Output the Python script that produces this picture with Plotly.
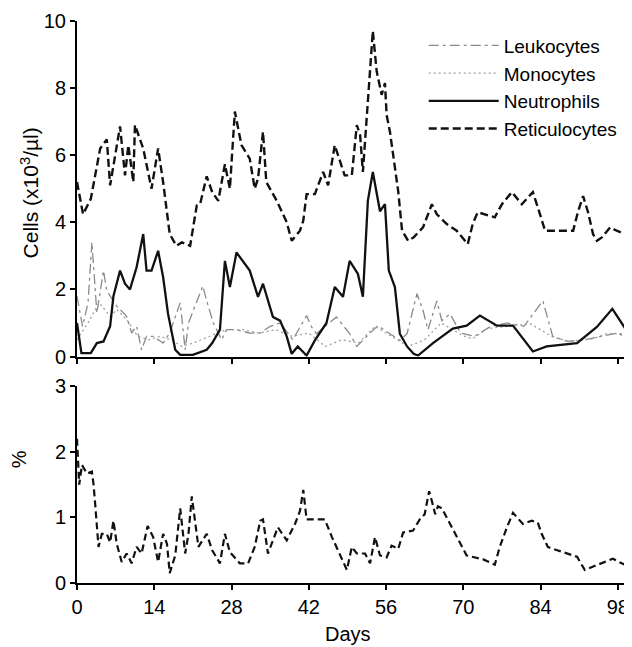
import plotly.graph_objects as go

# ---------------- data ----------------
ret_days = [0, 1.1, 2.5, 4.2, 5.4, 6, 7.8, 8.7, 9.3, 10.2, 10.5, 12, 13.5, 14.7, 15.6, 16.8, 18, 19,
            20.5, 21.7, 22.3, 23.5, 24.5, 25.6, 26.8, 27.7, 28.6, 29.8, 31.3, 32.2, 32.8, 33.7, 34.3,
            36.2, 38, 38.9, 40.4, 41, 41.6, 43.1, 44.6, 45.5, 46.7, 48.5, 49.8, 50.7, 51.3, 51.8,
            52.7, 53.6, 54.3, 55.2, 55.8, 56.1, 56.7, 57.6, 58.2, 58.9, 60, 61, 62.7, 64.3, 65.2,
            67, 68.8, 70.8, 71.7, 72.6, 74.5, 75.7, 77, 78.8, 80.6, 82.6, 83.9, 84.8, 88.8, 89.9,
            90.8, 91.7, 92.6, 93.5, 94.2, 95.1, 96.6, 97.8, 100.2]
ret_vals = [5.2, 4.24, 4.7, 6.2, 6.47, 5.1, 6.86, 5.4, 6.3, 5.2, 6.9, 6.2, 5.0, 6.2, 5.2, 3.65, 3.3, 3.4,
            3.3, 4.5, 4.54, 5.37, 4.9, 4.64, 5.73, 5.0, 7.3, 6.3, 5.9, 5.0, 5.3, 6.7, 5.2,
            4.64, 4.0, 3.45, 3.75, 4.05, 4.84, 4.84, 5.5, 5.1, 6.3, 5.4, 5.4, 6.9, 6.6, 5.5,
            7.6, 9.7, 8.5, 7.8, 8.15, 7.2, 6.7, 5.6, 4.93, 3.75, 3.45, 3.55, 3.85, 4.54, 4.24,
            3.95, 3.75, 3.35, 3.95, 4.3, 4.2, 4.15, 4.54, 4.9, 4.54, 4.9, 4.24, 3.75, 3.75, 3.75,
            4.33, 4.78, 4.3, 3.65, 3.45, 3.55, 3.85, 3.75, 3.6]

neu_days = [0, 0.8, 2.5, 3.6, 4.8, 6, 6.6, 7.8, 8.7, 9.6, 10.8, 11.7, 12, 12.6, 13.5, 14.7, 15.6, 16.5,
            17.8, 18.7, 21, 23.5, 24.5, 25.9, 26.8, 27.7, 28.9, 31.3, 32.8, 33.7, 35.5, 36.8, 38,
            38.9, 40, 41.6, 43.1, 45.2, 46.7, 48.2, 49.4, 50.9, 51.8, 52.7, 53.6, 54.9, 55.8, 56.5,
            57.6, 58.5, 59.8, 61, 61.8, 64.5, 68.1, 70.6, 73, 76.1, 79, 82.6, 85.1, 90.6, 94.2,
            97, 100.2]
neu_vals = [1.0, 0.1, 0.1, 0.4, 0.45, 0.9, 1.8, 2.56, 2.17, 2.0, 2.66, 3.35, 3.65, 2.56, 2.56, 3.15, 2.37, 1.27,
            0.2, 0.05, 0.05, 0.2, 0.4, 0.8, 2.85, 2.07, 3.1, 2.56, 1.78, 2.17, 1.18, 1.07, 0.6,
            0.08, 0.3, 0.03, 0.48, 1.0, 2.07, 1.78, 2.85, 2.46, 1.78, 4.64, 5.5, 4.33, 4.54, 2.56,
            2.07, 0.68, 0.3, 0.08, 0.03, 0.4, 0.83, 0.92, 1.22, 0.92, 0.92, 0.15, 0.3, 0.4, 0.88,
            1.42, 0.62]

leu_days = [0, 1, 2, 2.7, 3.6, 4.8, 5.4, 6, 7.2, 9, 9.9, 10.8, 11.7, 12.6, 13.8, 15.6, 16.8, 18.7,
            19.6, 20.2, 21.4, 22.8, 23.5, 24.7, 26.2, 27.1, 28.9, 31.3, 33.2, 35, 36.8, 39.1, 41.6,
            42.5, 43.4, 47, 49.4, 50.7, 52.5, 54.5, 56.7, 58.5, 59.8, 61.6, 62.7, 63.6, 65.2, 66.1,
            67.6, 69.5, 72, 75, 78, 81, 84.4, 86.2, 88.8, 92, 95, 98, 100.2]
leu_vals = [1.8, 0.9, 1.6, 3.4, 1.3, 2.56, 1.96, 1.8, 1.5, 1.2, 0.7, 0.9, 0.2, 0.6, 0.6, 0.4, 0.7, 1.6,
            0.2, 1.0, 1.5, 2.1, 1.66, 1.0, 0.5, 0.8, 0.8, 0.7, 0.7, 0.9, 1.0, 0.5, 1.22,
            0.88, 0.68, 1.18, 0.68, 0.3, 0.6, 0.92, 0.68, 0.48, 0.68, 1.87, 1.37, 0.8, 1.66, 1.07,
            1.27, 0.7, 0.6, 0.9, 1.0, 0.9, 1.66, 0.6, 0.45, 0.5, 0.6, 0.7, 0.5]

mon_days = [0, 2, 4, 6, 7.2, 9, 11, 13, 15, 17, 19, 21, 24, 27, 30, 33, 36, 39, 42, 45, 48, 51, 54,
            57, 60, 63, 66, 69.9, 71.7, 74.3, 78.4, 82.1, 84, 86, 89, 93.5, 96, 98.7, 100.2]
mon_vals = [0.5, 1.0, 1.6, 1.2, 1.4, 1.1, 0.6, 0.5, 0.6, 0.5, 0.3, 0.4, 0.6, 0.8, 0.8, 0.7, 0.8, 0.6,
            0.7, 0.3, 0.5, 0.4, 0.9, 0.6, 0.3, 0.5, 1.0, 0.62, 0.53, 0.83, 0.92, 0.98, 0.8, 0.6,
            0.45, 0.53, 0.68, 0.68, 0.48]

pct_days = [0, 0.4, 0.9, 1.8, 2.7, 3, 3.3, 3.6, 3.9, 4.5, 5.4, 6, 6.6, 7.2, 8.1, 9, 9.9, 10.8, 11.7,
            12.8, 13.8, 14.7, 15.6, 16.3, 16.8, 17.8, 18.7, 19.6, 20.2, 20.8, 21.4, 22, 23.5, 24.5,
            25.9, 26.8, 27.7, 29.5, 31, 32.2, 33.2, 33.7, 34.6, 35.5, 36.4, 38, 39.5, 40.4, 41,
            41.6, 42.2, 44.9, 46.2, 47.6, 48.9, 49.8, 50.7, 52.2, 53.1, 54, 54.9, 56.1, 57, 58.2,
            59.1, 60.9, 62.1, 63, 63.8, 64.3, 64.9, 65.4, 66.1, 67.6, 69, 70.6, 73.6, 75.7, 76.6,
            77.9, 79, 80.8, 82.4, 83.5, 84.2, 85.3, 87, 89, 90.6, 92, 93.5, 95.3, 97.1, 98.7, 100.2]
pct_vals = [2.2, 1.5, 1.8, 1.67, 1.7, 1.5, 1.2, 0.85, 0.55, 0.75, 0.75, 0.62, 0.95, 0.6, 0.32, 0.45, 0.3,
            0.55, 0.45, 0.87, 0.7, 0.32, 0.75, 0.6, 0.15, 0.42, 1.14, 0.45, 0.75, 1.32, 0.9, 0.55,
            0.75, 0.5, 0.3, 0.75, 0.47, 0.3, 0.3, 0.55, 0.95, 0.97, 0.45, 0.65, 0.85, 0.65, 0.9,
            1.1, 1.42, 0.97, 0.97, 0.97, 0.7, 0.45, 0.2, 0.55, 0.45, 0.45, 0.3, 0.7, 0.42, 0.39,
            0.57, 0.52, 0.77, 0.8, 0.97, 1.05, 1.4, 1.25, 1.05, 1.17, 1.14, 0.9, 0.67, 0.42, 0.36,
            0.28, 0.55, 0.85, 1.07, 0.9, 0.95, 0.92, 0.75, 0.55, 0.5, 0.45, 0.4, 0.2, 0.25, 0.32,
            0.37, 0.3, 0.25]

x_ticks = [0, 14, 28, 42, 56, 70, 84, 98]
top_ticks = [0, 2, 4, 6, 8, 10]
bot_ticks = [0, 1, 2, 3]

FONT = "Liberation Sans, Arial, sans-serif"
FS = 20

fig = go.Figure()
fig.add_trace(go.Scatter(x=leu_days, y=leu_vals, name="Leukocytes", mode="lines",
                         line=dict(color="#8a8a8a", width=1.3, dash="10px,4px,3px,4px"),
                         xaxis="x", yaxis="y"))
fig.add_trace(go.Scatter(x=mon_days, y=mon_vals, name="Monocytes", mode="lines",
                         line=dict(color="#a0a0a0", width=1.3, dash="2px,3px"),
                         xaxis="x", yaxis="y"))
fig.add_trace(go.Scatter(x=neu_days, y=neu_vals, name="Neutrophils", mode="lines",
                         line=dict(color="#111111", width=2.3),
                         xaxis="x", yaxis="y"))
fig.add_trace(go.Scatter(x=ret_days, y=ret_vals, name="Reticulocytes", mode="lines",
                         line=dict(color="#111111", width=2.4, dash="8px,4px"),
                         xaxis="x", yaxis="y"))
fig.add_trace(go.Scatter(x=pct_days, y=pct_vals, name="%", mode="lines", showlegend=False,
                         line=dict(color="#111111", width=2.2, dash="7px,4px"),
                         xaxis="x2", yaxis="y2"))

axis_common = dict(showline=True, linecolor="black", linewidth=2, ticks="outside",
                   ticklen=5, tickwidth=1.5, tickcolor="black", showgrid=False,
                   zeroline=False, tickfont=dict(family=FONT, size=FS, color="black"))

# the page body has an 8px default margin, so the figure is 8px smaller
fig.update_layout(
    width=624, height=639,
    margin=dict(l=69, r=2, t=3, b=64),
    paper_bgcolor="white", plot_bgcolor="white",
    font=dict(family=FONT, size=FS, color="black"),
    xaxis=dict(domain=[0, 1], range=[0, 100.2], tickvals=x_ticks, showticklabels=False,
               anchor="y", **axis_common),
    yaxis=dict(domain=[0.403, 1], range=[0, 10], tickvals=top_ticks, anchor="x",
               **axis_common),
    xaxis2=dict(domain=[0, 1], range=[0, 100.2], tickvals=x_ticks, anchor="y2",
                **axis_common),
    yaxis2=dict(domain=[0, 0.35], range=[0, 3], tickvals=bot_ticks, anchor="x2",
                **axis_common),
    legend=dict(x=0.627, y=0.99, xanchor="left", yanchor="top", bgcolor="rgba(0,0,0,0)",
                font=dict(family=FONT, size=19, color="black"), itemwidth=70,
                tracegroupgap=0),
    showlegend=True,
    annotations=[
        dict(text="Cells (x10<sup>3</sup>/µl)", xref="paper", yref="paper", x=-0.085,
             y=0.695, textangle=-90, showarrow=False, xanchor="center", yanchor="middle",
             font=dict(family=FONT, size=21)),
        dict(text="%", xref="paper", yref="paper", x=-0.105, y=0.22, textangle=-90,
             showarrow=False, xanchor="center", yanchor="middle",
             font=dict(family=FONT, size=FS)),
        dict(text="Days", xref="paper", yref="paper", x=0.49, y=-0.0915, showarrow=False,
             xanchor="center", yanchor="middle", font=dict(family=FONT, size=FS)),
    ],
)

fig.write_html("out.html")
